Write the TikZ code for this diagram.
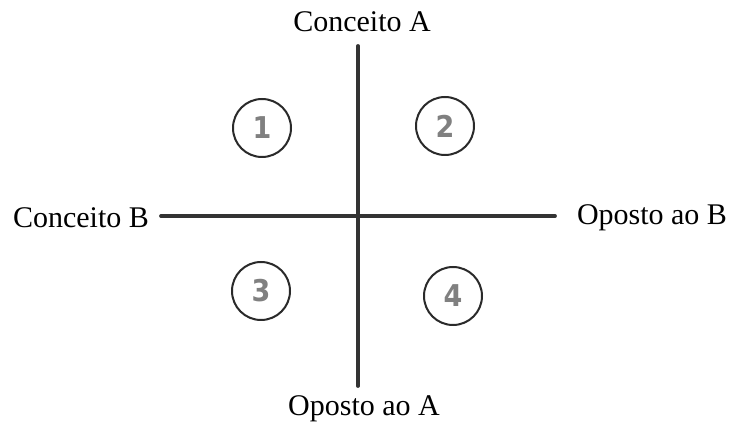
\documentclass[tikz,border=0pt]{standalone}
\usepackage{fontspec}
\setmainfont{Liberation Serif}
\newfontfamily\digitfont{DejaVu Sans Condensed}
\definecolor{axis}{HTML}{333333}
\definecolor{ring}{HTML}{2A2A2A}
\definecolor{digit}{HTML}{808080}
\tikzset{
  axisline/.style={draw=axis, line width=3.8pt, line cap=round},
  label/.style={font=\fontsize{30}{33}\selectfont, text=black, inner sep=0pt},
  numring/.style={circle, draw=ring, line width=2pt, minimum size=58pt, inner sep=0pt,
    font=\digitfont\bfseries\fontsize{30}{32}\selectfont, text=digit}
}
\begin{document}
\begin{tikzpicture}[x=1pt,y=-1pt]
\useasboundingbox (0,0) rectangle (731,427);
\coordinate (top) at (358,46);
\coordinate (bot) at (358,386);
\coordinate (lft) at (161,216);
\coordinate (rgt) at (555,216);
\draw[axisline] (top) -- (bot);
\draw[axisline] (lft) -- (rgt);
\node[label] (ca) at (362,22) {Conceito A};
\node[label] (cb) at (81,218) {Conceito B};
\node[label] (ob) at (652,218) {Oposto ao B};
\node[label] (oa) at (364,409) {Oposto ao A};
\node[numring] (n1) at (262,128) {1};
\node[numring] (n2) at (445,126) {2};
\node[numring] (n3) at (261,291) {3};
\node[numring] (n4) at (453,296) {4};
\end{tikzpicture}
\end{document}
